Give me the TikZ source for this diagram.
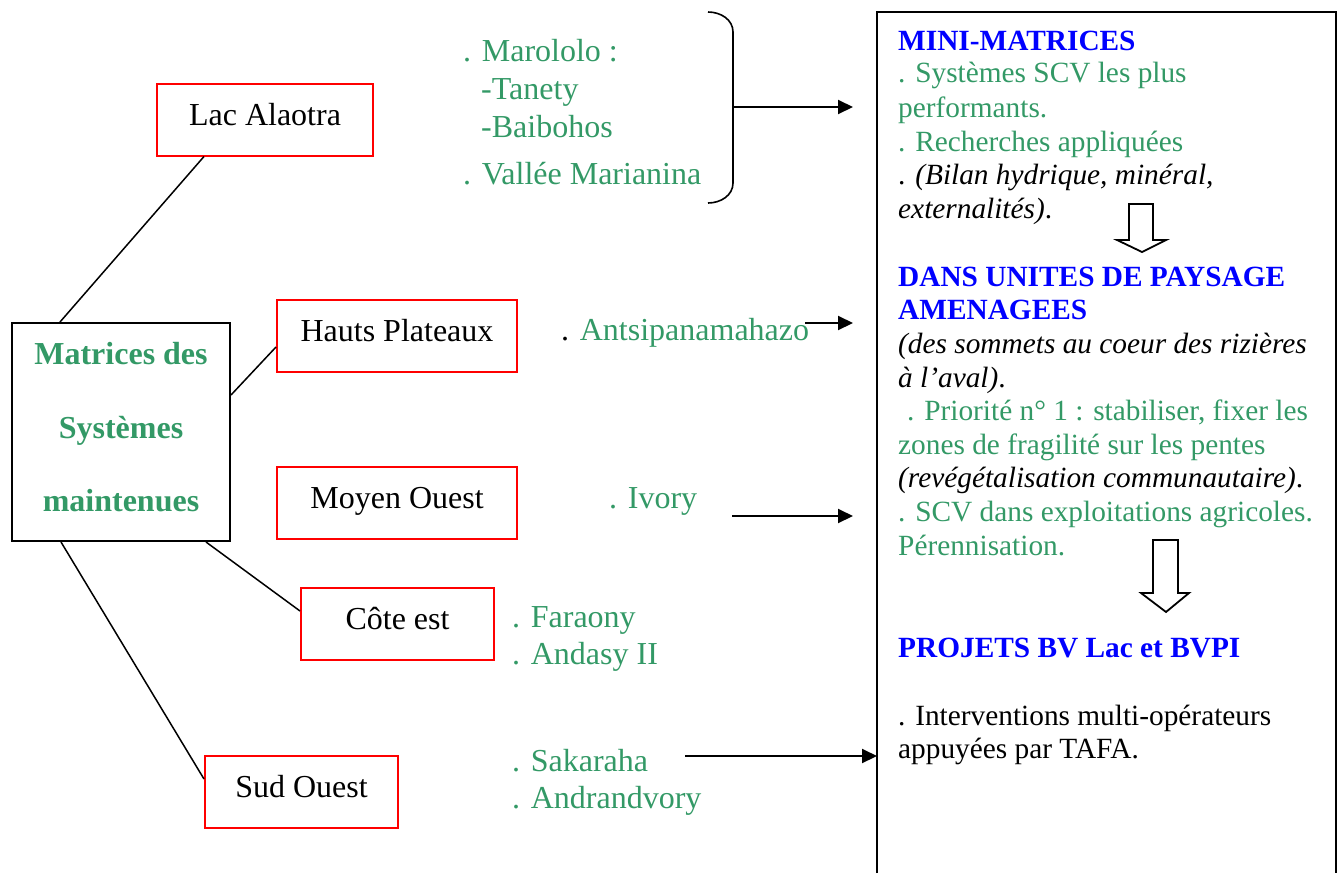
\documentclass[tikz,border=0pt]{standalone}
\usepackage{fontspec}
\setmainfont{Liberation Serif}
\usetikzlibrary{arrows.meta,calc}
\definecolor{tgreen}{HTML}{339966}
\definecolor{tblue}{HTML}{0000FF}
\definecolor{tred}{HTML}{FF0000}
\begin{document}
\begin{tikzpicture}[x=1pt,y=-1pt,
  big/.style={font=\fontsize{32}{36.8}\selectfont},
  small/.style={font=\fontsize{29.33}{33.7}\selectfont},
  regionbox/.style={draw=tred,line width=2pt,inner sep=0pt,big,
    minimum height=72pt,text height=22.4pt,text depth=11.2pt},
  lt/.style={anchor=base west,big,inner sep=0pt,text=tgreen},
  rt/.style={anchor=base west,small,inner sep=0pt},
  rg/.style={rt,text=tgreen},
  rb/.style={rt,text=tblue,font=\fontsize{29.33}{33.7}\selectfont\bfseries},
  link/.style={line width=1.5pt},
  arr/.style={line width=2pt,-{Triangle[length=15pt,width=14pt]}},
  hollow/.style={line width=1.8pt,fill=white,line join=miter}]
\useasboundingbox (0,0) rectangle (1338,873);

% left tree
\node[draw,line width=2pt,minimum width=218pt,minimum height=218pt,inner sep=0pt] (mat) at (121,432) {};
\node[align=center,text=tgreen,font=\fontsize{32}{73.5}\selectfont\bfseries,inner sep=0pt] (matlbl) at (121,427.5) {Matrices des\\Systèmes\\maintenues};

\node[regionbox,minimum width=216pt] (lac) at (265,119.5) {Lac Alaotra};
\node[regionbox,minimum width=240pt] (hauts) at (397,336) {Hauts Plateaux};
\node[regionbox,minimum width=240pt] (moyen) at (397,503) {Moyen Ouest};
\node[regionbox,minimum width=193pt] (cote) at (397.5,624) {Côte est};
\node[regionbox,minimum width=193pt] (sud) at (301.5,792) {Sud Ouest};

\draw[link] ($(mat.north west)+(49,0)$) -- ($(lac.south west)+(48,0)$);
\draw[link] ($(mat.north east)+(0,73)$) -- ($(hauts.north west)+(0,48)$);
\draw[link] ($(mat.south west)+(195,0)$) -- ($(cote.north west)+(0,24)$);
\draw[link] ($(mat.south west)+(50,0)$) -- ($(sud.north west)+(0,24)$);

% site names
\node[lt] (maro) at (463,61) {. Marololo :};
\node[lt] (tan) at (481,99) {-Tanety};
\node[lt] (bai) at (481,137) {-Baibohos};
\node[lt] (val) at (463,184) {. Vallée Marianina};
\node[lt] (ants) at (561,340) {\textcolor{black}{.} Antsipanamahazo};
\node[lt] (ivo) at (609,508) {. Ivory};
\node[lt] (far) at (512,627) {. Faraony};
\node[lt] (and) at (512,664) {. Andasy II};
\node[lt] (sak) at (512,771) {. Sakaraha};
\node[lt] (adv) at (512,808) {. Andrandvory};

% brace
\draw[line width=1.6pt] (708,12) to[out=0,in=90] (733,32) -- (733,183) to[out=-90,in=0] (708,203);

% right box
\draw[line width=2pt] (877,873) -- (877,12) -- (1336,12) -- (1336,873);

% arrows
\coordinate (bmid) at (733,107);
\coordinate (e1) at (853,107);
\coordinate (s2) at (805,323);
\coordinate (e2) at (853,323);
\coordinate (s3) at (732,516);
\coordinate (e3) at (853,516);
\coordinate (s4) at (685,756);
\coordinate (e4) at (877,756);
\draw[arr] (bmid) -- (e1);
\draw[arr] (s2) -- (e2);
\draw[arr] (s3) -- (e3);
\draw[arr] (s4) -- (e4);

% right box text
\node[rb] (r1) at (898,50) {MINI-MATRICES};
\node[rg] (r2) at (898,82) {. Systèmes SCV les plus};
\node[rg] (r3) at (898,117) {performants.};
\node[rg] (r4) at (898,151) {. Recherches appliquées};
\node[rt] (r5) at (898,184) {. \textit{(Bilan hydrique, minéral,}};
\node[rt] (r6) at (898,218) {\textit{externalités)}.};
\node[rb] (r7) at (898,286) {DANS UNITES DE PAYSAGE};
\node[rb] (r8) at (898,319) {AMENAGEES};
\node[rt] (r9) at (898,353) {\textit{(des sommets au coeur des rizières}};
\node[rt] (r10) at (898,387) {\textit{à l’aval)}.};
\node[rg] (r11) at (907,420) {. Priorité n° 1 : stabiliser, fixer les};
\node[rg] (r12) at (898,454) {zones de fragilité sur les pentes};
\node[rt] (r13) at (898,487) {\textit{(revégétalisation communautaire)}.};
\node[rg] (r14) at (898,521) {. SCV dans exploitations agricoles.};
\node[rg] (r15) at (898,555) {Pérennisation.};
\node[rb] (r16) at (898,657) {PROJETS BV Lac et BVPI};
\node[rt] (r17) at (898,725) {. Interventions multi-opérateurs};
\node[rt] (r18) at (898,758) {appuyées par TAFA.};

% hollow down arrows
\draw[hollow] (1129,204) -- (1153,204) -- (1153,240) -- (1166,240) -- (1142,252) -- (1117,240) -- (1129,240) -- cycle;
\draw[hollow] (1153,540) -- (1178,540) -- (1178,593) -- (1189,593) -- (1166,612) -- (1141,593) -- (1153,593) -- cycle;
\end{tikzpicture}
\end{document}
